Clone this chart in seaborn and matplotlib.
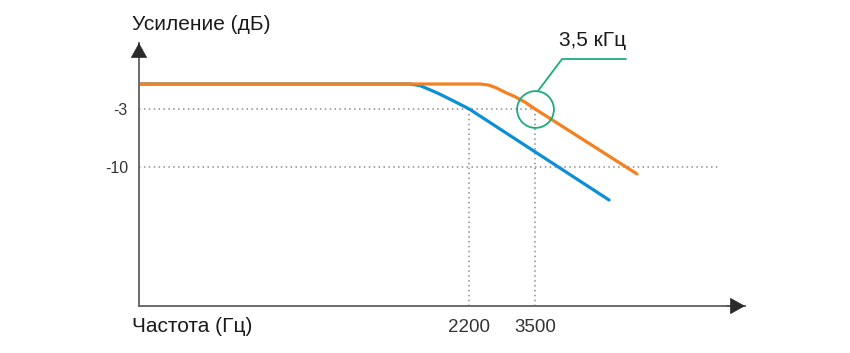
import pandas as pd
import seaborn as sns
import matplotlib.pyplot as plt

# кривые АЧХ (частота в Гц, усиление в дБ)
blue_freq = [215, 1452, 1558, 1648, 1768, 1898, 2037, 2200, 5900]
blue_gain = [0.0, 0.0, -0.20, -0.60, -1.12, -1.72, -2.33, -3.0, -13.98]
orange_freq = [215, 2377, 2515, 2642, 2835, 3042, 3264, 3500, 7180]
orange_gain = [0.0, 0.0, -0.12, -0.40, -1.0, -1.53, -2.20, -3.0, -10.84]

ytick_values = [-10, -3]
ytick_labels = ['-10', '-3']
xtick_values = [2200, 3500]
xtick_labels = ['2200', '3500']

cutoff_freq = 3500
cutoff_gain = -3
minus10_end_freq = 12880
callout_text = '3,5 кГц'

blue = '#0d8fd8'
orange = '#f5801f'
green = '#19ad7c'
grid_col = '#8c8c8c'

sns.set_style("white")
plt.rcParams['font.family'] = ['Liberation Sans', 'DejaVu Sans']

fig = plt.figure(figsize=(8.5, 3.53), dpi=100)
ax = fig.add_axes([139 / 850, (353 - 306) / 353, (745 - 139) / 850, (306 - 43) / 353])
ax.set_xscale('log')
ax.set_xlim(215, 15370)
ax.set_ylim(-26.75, 4.94)

# пунктирные вспомогательные линии
dot = (0, (1, 2.2))
ax.plot([215, cutoff_freq], [cutoff_gain, cutoff_gain], color=grid_col, lw=1.1, ls=dot)
ax.plot([215, minus10_end_freq], [-10, -10], color=grid_col, lw=1.1, ls=dot)
for f in xtick_values:
    ax.plot([f, f], [cutoff_gain, -26.75], color=grid_col, lw=1.1, ls=dot)

df_blue = pd.DataFrame({'f': blue_freq, 'g': blue_gain})
df_orange = pd.DataFrame({'f': orange_freq, 'g': orange_gain})
sns.lineplot(data=df_blue, x='f', y='g', ax=ax, color=blue, lw=2.3, sort=False,
             estimator=None, solid_joinstyle='round')
sns.lineplot(data=df_orange, x='f', y='g', ax=ax, color=orange, lw=2.3, sort=False,
             estimator=None, solid_joinstyle='round')

# выноска с кружком
ax.plot([cutoff_freq], [cutoff_gain], marker='o', ms=26.5, mfc='none', mec=green, mew=1.3)
ax.plot([3575, 4235, 6644], [-0.84, 3.01, 3.01], color=green, lw=1.3, solid_joinstyle='miter')
ax.text(5250, 5.2, callout_text, fontsize=15, ha='center', va='center', color='#1a1a1a')

# оси со стрелками
for side in ['top', 'right']:
    ax.spines[side].set_visible(False)
for side in ['left', 'bottom']:
    ax.spines[side].set_color('#6a6a6a')
    ax.spines[side].set_linewidth(1.4)
arrow = dict(arrowstyle='-|>,head_length=0.45,head_width=0.25', color='#2a2a2a',
             lw=0.5, mutation_scale=22, shrinkA=0, shrinkB=0)
ax.annotate('', xy=(0, 1), xytext=(0, 0.95), xycoords='axes fraction', arrowprops=arrow)
ax.annotate('', xy=(1, 0), xytext=(0.97, 0), xycoords='axes fraction', arrowprops=arrow)

ax.set_yticks(ytick_values)
ax.set_yticklabels(ytick_labels, fontsize=11.5, color='#333333')
ax.set_xticks(xtick_values)
ax.set_xticklabels(xtick_labels, fontsize=13.5, color='#333333')
ax.minorticks_off()
ax.tick_params(axis='y', length=0, pad=8)
ax.tick_params(axis='x', length=0, pad=9)
ax.set_xlabel('')
ax.set_ylabel('')

fig.text(132 / 850, 1 - 25 / 353, 'Усиление (дБ)', fontsize=15, ha='left', va='center', color='#1a1a1a')
fig.text(132 / 850, 1 - 327 / 353, 'Частота (Гц)', fontsize=15, ha='left', va='center', color='#1a1a1a')

fig.savefig('out.png', dpi=100, facecolor='white')
